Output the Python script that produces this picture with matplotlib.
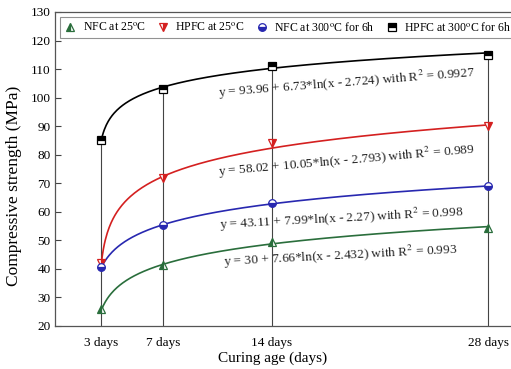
import matplotlib
matplotlib.use("Agg")
import matplotlib.pyplot as plt
import numpy as np

plt.rcParams['font.family'] = ['Liberation Serif', 'DejaVu Serif']
plt.rcParams['mathtext.fontset'] = 'stix'

days = [3, 7, 14, 28]
day_labels = ["3 days", "7 days", "14 days", "28 days"]

series_names = ["NFC at 25$^{\\rm o}$C", "HPFC at 25$^{\\rm o}$C",
                "NFC at 300$^{\\rm o}$C for 6h", "HPFC at 300$^{\\rm o}$C for 6h"]
nfc_25 = [26, 41.5, 49.5, 54.5]
hpfc_25 = [42, 72, 84, 90]
nfc_300 = [40.5, 55.5, 63, 69]
hpfc_300 = [85, 103, 111, 115]

# fitted equation coefficients (a, b, c) for y = a + b*ln(x - c)
fit_nfc_25 = (30, 7.66, 2.432)
fit_hpfc_25 = (58.02, 10.05, 2.793)
fit_nfc_300 = (43.11, 7.99, 2.27)
fit_hpfc_300 = (93.96, 6.73, 2.724)

eq_texts = ["y = 30 + 7.66*ln(x - 2.432) with R$^2$ = 0.993",
            "y = 58.02 + 10.05*ln(x - 2.793) with R$^2$ = 0.989",
            "y = 43.11 + 7.99*ln(x - 2.27) with R$^2$ = 0.998",
            "y = 93.96 + 6.73*ln(x - 2.724) with R$^2$ = 0.9927"]

colors = ["#2a6e3c", "#d42020", "#2828b0", "#000000"]
markers = ["^", "v", "o", "s"]
fills = ["left", "right", "bottom", "top"]

W, H = 511, 369
fig = plt.figure(figsize=(W/100, H/100), dpi=100)
ax = fig.add_axes([55/W, (H-326)/H, 464.4/W, 314/H])

allv = [nfc_25, hpfc_25, nfc_300, hpfc_300]
fits = [fit_nfc_25, fit_hpfc_25, fit_nfc_300, fit_hpfc_300]
tops = np.max(np.array(allv), axis=0)
ax.vlines(days, 20, tops, color="#444444", lw=0.8, zorder=1)

xs = np.linspace(days[0], days[-1], 400)
handles = []
for vals, fit, col, mk, fs, name in zip(allv, fits, colors, markers, fills, series_names):
    a, b, c = fit
    ax.plot(xs, a + b*np.log(xs - c), color=col, lw=1.2, zorder=2)
    h, = ax.plot(days, vals, linestyle="none", marker=mk, markersize=5.5,
                 fillstyle=fs, markerfacecolor=col, markerfacecoloralt="white",
                 markeredgecolor=col, markeredgewidth=0.9, zorder=3, label=name)
    handles.append(h)

eq_pos = [(18.44, 44.5, 3.0), (18.83, 77.8, 5.0), (18.5, 57.7, 3.0), (18.83, 105.3, 4.5)]
for t, (x, y, r) in zip(eq_texts, eq_pos):
    ax.text(x, y, t, ha="center", va="center", rotation=r, rotation_mode="anchor",
            fontsize=9.5, color="#222222", zorder=4)

ax.set_xlim(0, 30)
ax.set_ylim(20, 130)
ax.set_yticks(np.arange(20, 131, 10))
ax.set_xticks(days)
ax.set_xticklabels(day_labels)
ax.tick_params(axis="y", direction="in", length=4, width=0.8, color="#444444",
               labelsize=9.5, pad=3)
ax.tick_params(axis="x", length=0, labelsize=9.5, pad=8)
for s in ["left", "bottom", "top", "right"]:
    ax.spines[s].set_color("#555555")
    ax.spines[s].set_linewidth(0.9)

ax.set_xlabel("Curing age (days)", fontsize=11)
ax.set_ylabel("Compressive strength (MPa)", fontsize=12.5)
ax.xaxis.set_label_coords(0.469, -0.08)
ax.yaxis.set_label_coords(-0.071, 0.446)

leg = ax.legend(handles=handles, loc="upper left", bbox_to_anchor=(0.011, 0.984),
                borderaxespad=0, ncol=4, fontsize=8.5, frameon=True, fancybox=False,
                edgecolor="#777777", handlelength=1.0, handletextpad=0.55,
                columnspacing=0.95, borderpad=0.35, markerscale=1.0)
leg.get_frame().set_linewidth(0.8)

fig.savefig("out.png", dpi=100)
